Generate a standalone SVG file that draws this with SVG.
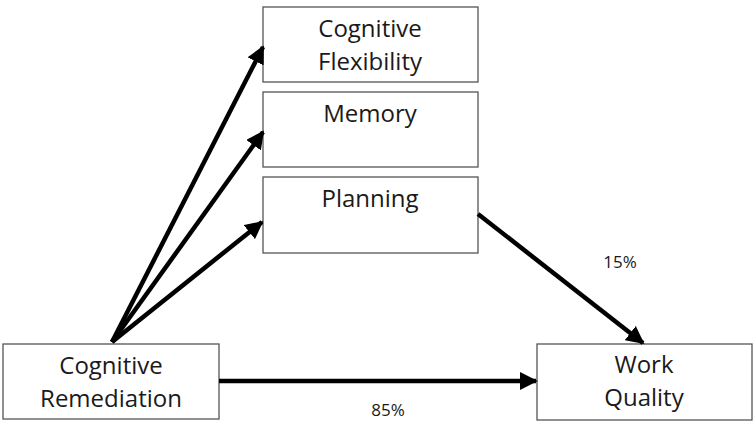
<svg xmlns="http://www.w3.org/2000/svg" width="756" height="424" viewBox="0 0 756 424">
<defs>
<marker id="ah" viewBox="0 0 10 10" refX="9" refY="5" markerWidth="4" markerHeight="4" orient="auto" markerUnits="strokeWidth">
<path d="M0,0 L10,5 L0,10 z" fill="#000"/>
</marker>
<style>
.box{fill:#fff;stroke:#555;stroke-width:1.3}
.lbl{font-family:"Open Sans","Noto Sans","Liberation Sans",sans-serif;font-size:24px;fill:#1a1a1a;text-anchor:middle}
.pct{font-family:"Open Sans","Noto Sans","Liberation Sans",sans-serif;font-size:17px;fill:#1a1a1a;text-anchor:middle}
.edge{stroke:#000;stroke-width:4.5;fill:none;marker-end:url(#ah)}
</style>
</defs>
<rect width="756" height="424" fill="#fff"/>
<g id="cr">
<rect class="box" x="3" y="344" width="216" height="75"/>
<text class="lbl" x="111" y="374">Cognitive</text>
<text class="lbl" x="111" y="407">Remediation</text>
</g>
<g id="cf">
<rect class="box" x="263" y="7" width="215" height="75"/>
<text class="lbl" x="370" y="37">Cognitive</text>
<text class="lbl" x="370" y="70">Flexibility</text>
</g>
<g id="mem">
<rect class="box" x="263" y="92" width="215" height="75"/>
<text class="lbl" x="370" y="122">Memory</text>
</g>
<g id="plan">
<rect class="box" x="263" y="177" width="215" height="76"/>
<text class="lbl" x="370" y="207">Planning</text>
</g>
<g id="wq">
<rect class="box" x="537" y="344" width="215" height="76"/>
<text class="lbl" x="644" y="373">Work</text>
<text class="lbl" x="644" y="406">Quality</text>
</g>
<g id="connectors">
<line class="edge" x1="112" y1="342" x2="263" y2="47"/>
<line class="edge" x1="112" y1="342" x2="263" y2="132"/>
<line class="edge" x1="112" y1="342" x2="262" y2="222"/>
<line class="edge" x1="478" y1="214" x2="643" y2="343"/>
<line class="edge" x1="219" y1="381" x2="536" y2="381"/>
<text class="pct" x="620" y="268">15%</text>
<text class="pct" x="388" y="416">85%</text>
</g>
</svg>
